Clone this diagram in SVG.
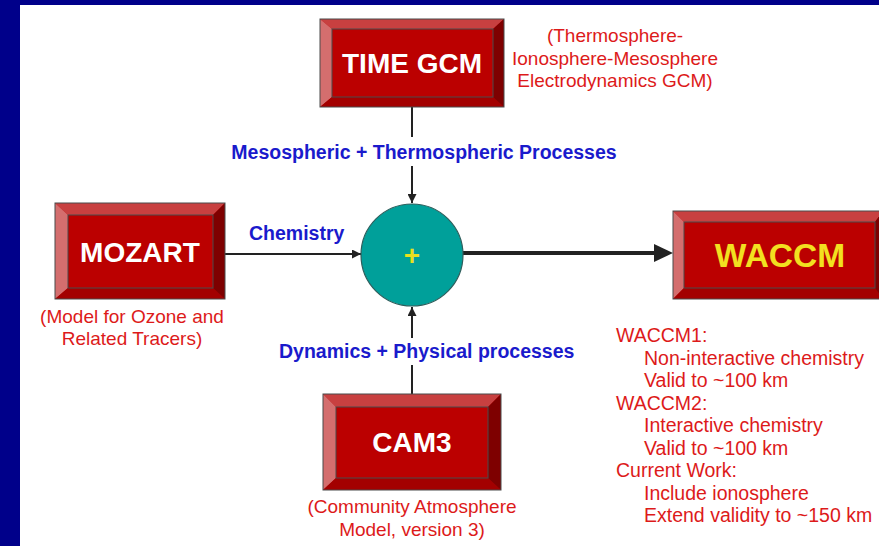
<svg xmlns="http://www.w3.org/2000/svg" width="879" height="546" viewBox="0 0 879 546">
<defs>
<style>
.bt{fill:#c84040}.bl{fill:#d46e6e}.bb{fill:#a30000}.br{fill:#7e0000}.bf{fill:#bb0000}
.frame{fill:none;stroke:#4a4a4a;stroke-width:1}
.name{font-family:"Liberation Sans",Arial,sans-serif;font-weight:bold;font-size:28px;fill:#ffffff;text-anchor:middle}
.lbl{font-family:"Liberation Sans",Arial,sans-serif;font-weight:bold;font-size:19.5px;fill:#1a1acc}
.red{font-family:"Liberation Sans",Arial,sans-serif;font-size:19px;fill:#dd1a1a}
.list{font-size:19.5px}
.mid{text-anchor:middle}
.ln{stroke:#222;stroke-width:2;fill:none}
</style>
<marker id="ah" viewBox="0 0 10 10" refX="10" refY="5" markerWidth="9" markerHeight="9" markerUnits="userSpaceOnUse" orient="auto">
<path d="M0,0 L10,5 L0,10 z" fill="#222"/>
</marker>
</defs>
<rect x="0" y="0" width="879" height="546" fill="#00008a"/>
<rect x="20" y="5" width="859" height="541" fill="#ffffff"/>

<g id="connectors">
<line class="ln" x1="412" y1="107" x2="412" y2="137"/>
<line class="ln" x1="412" y1="166" x2="412" y2="203" marker-end="url(#ah)"/>
<line class="ln" x1="225" y1="254" x2="361" y2="254" marker-end="url(#ah)"/>
<line class="ln" x1="412" y1="394" x2="412" y2="365"/>
<line class="ln" x1="412" y1="338" x2="412" y2="307" marker-end="url(#ah)"/>
<line x1="463" y1="253" x2="657" y2="253" stroke="#222" stroke-width="4"/>
<polygon points="654,244 673,253 654,262" fill="#222"/>
<text class="lbl mid" x="424" y="159">Mesospheric + Thermospheric Processes</text>
<text class="lbl" x="249" y="240">Chemistry</text>
<text class="lbl" x="279" y="358">Dynamics + Physical processes</text>
</g>

<g id="timegcm">
<rect class="bf" x="320" y="19" width="184" height="88"/>
<polygon class="bt" points="320,19 504,19 493,29 332,29"/>
<polygon class="bl" points="320,19 332,29 332,97 320,107"/>
<polygon class="bb" points="320,107 332,97 493,97 504,107"/>
<polygon class="br" points="504,19 504,107 493,97 493,29"/>
<rect class="frame" x="332" y="29" width="161" height="68"/>
<rect class="frame" x="320" y="19" width="184" height="88"/>
<text class="name" x="412" y="73">TIME GCM</text>
<text class="red mid" x="615" y="42">(Thermosphere-</text>
<text class="red mid" x="615" y="65">Ionosphere-Mesosphere</text>
<text class="red mid" x="615" y="87">Electrodynamics GCM)</text>
</g>

<g id="mozart">
<rect class="bf" x="55" y="203" width="170" height="96"/>
<polygon class="bt" points="55,203 225,203 213,215 68,215"/>
<polygon class="bl" points="55,203 68,215 68,288 55,299"/>
<polygon class="bb" points="55,299 68,288 213,288 225,299"/>
<polygon class="br" points="225,203 225,299 213,288 213,215"/>
<rect class="frame" x="68" y="215" width="145" height="73"/>
<rect class="frame" x="55" y="203" width="170" height="96"/>
<text class="name" x="140" y="262">MOZART</text>
<text class="red mid" x="132" y="323">(Model for Ozone and</text>
<text class="red mid" x="132" y="345">Related Tracers)</text>
</g>

<g id="combine">
<circle cx="412" cy="255" r="51" fill="#00a09a" stroke="#2c5e5c" stroke-width="1.2"/>
<text x="412" y="265" font-family="Liberation Sans, Arial, sans-serif" font-weight="bold" font-size="28" fill="#e8e020" text-anchor="middle">+</text>
</g>

<g id="waccm">
<rect class="bf" x="673" y="211" width="210" height="88"/>
<polygon class="bt" points="673,211 883,211 875,222 684,222"/>
<polygon class="bl" points="673,211 684,222 684,288 673,299"/>
<polygon class="bb" points="673,299 684,288 875,288 883,299"/>
<polygon class="br" points="883,211 883,299 875,288 875,222"/>
<rect class="frame" x="684" y="222" width="191" height="66"/>
<rect class="frame" x="673" y="211" width="210" height="88"/>
<text class="name" x="780" y="267" style="font-size:33.5px;fill:#f2e020">WACCM</text>
<text class="red list" x="616" y="342">WACCM1:</text>
<text class="red list" x="644" y="364.5">Non-interactive chemistry</text>
<text class="red list" x="644" y="387">Valid to ~100 km</text>
<text class="red list" x="616" y="409.5">WACCM2:</text>
<text class="red list" x="644" y="432">Interactive chemistry</text>
<text class="red list" x="644" y="454.5">Valid to ~100 km</text>
<text class="red list" x="616" y="477">Current Work:</text>
<text class="red list" x="644" y="499.5">Include ionosphere</text>
<text class="red list" x="644" y="522">Extend validity to ~150 km</text>
</g>

<g id="cam3">
<rect class="bf" x="323" y="394" width="178" height="96"/>
<polygon class="bt" points="323,394 501,394 488,407 336,407"/>
<polygon class="bl" points="323,394 336,407 336,478 323,490"/>
<polygon class="bb" points="323,490 336,478 488,478 501,490"/>
<polygon class="br" points="501,394 501,490 488,478 488,407"/>
<rect class="frame" x="336" y="407" width="152" height="71"/>
<rect class="frame" x="323" y="394" width="178" height="96"/>
<text class="name" x="412" y="452">CAM3</text>
<text class="red mid" x="412" y="513">(Community Atmosphere</text>
<text class="red mid" x="412" y="536">Model, version 3)</text>
</g>
</svg>
